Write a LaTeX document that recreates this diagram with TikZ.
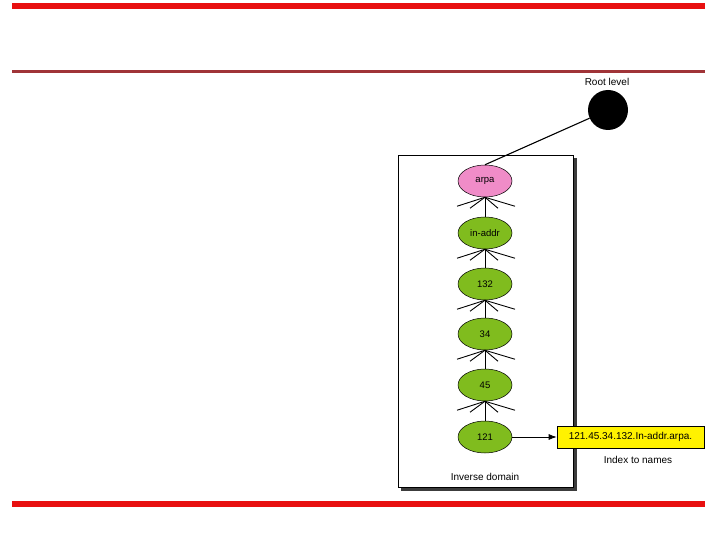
\documentclass[tikz,border=0pt]{standalone}
\usepackage{fontspec}
\setmainfont{Liberation Sans}
\usetikzlibrary{shapes.geometric,arrows.meta}
\definecolor{barred}{RGB}{232,16,16}
\definecolor{linered}{RGB}{160,52,56}
\definecolor{leafgreen}{RGB}{128,188,30}
\definecolor{arpapink}{RGB}{240,140,200}
\definecolor{shadowgray}{RGB}{60,60,60}
\tikzset{
  dom/.style={ellipse,draw=black,line width=0.5pt,minimum width=54pt,minimum height=32pt,inner sep=0pt,font=\fontsize{9.5}{11}\selectfont},
  greendom/.style={dom,fill=leafgreen},
  lbl/.style={font=\fontsize{10}{12}\selectfont,inner sep=0pt},
  fan/.style={line width=0.9pt},
}
\begin{document}
\begin{tikzpicture}[x=1pt,y=-1pt]
\useasboundingbox (0,0) rectangle (720,540);
% bars
\fill[barred] (12,3) rectangle (705,9);
\fill[linered] (12,70) rectangle (705,73);
\fill[barred] (12,501) rectangle (705,507);
% domain box with shadow
\fill[shadowgray] (401,158) rectangle (576.5,490.5);
\draw[fill=white,line width=0.7pt] (398,155) rectangle (573,487);
% root
\node[circle,fill=black,minimum size=40pt,inner sep=0pt] (root) at (608,110) {};
\node[lbl] (rootlbl) at (607,82) {Root level};
% domains
\node[dom,fill=arpapink] (arpa) at (485,181) {arpa};
\node[greendom] (inaddr) at (485,233) {in-addr};
\node[greendom] (n132) at (485,284) {132};
\node[greendom] (n34) at (485,334) {34};
\node[greendom] (n45) at (485,385) {45};
\node[greendom] (n121) at (485,437) {121};
\draw[line width=1.1pt] (root) -- (arpa.north);
% fans
\foreach \p/\c in {arpa/inaddr,inaddr/n132,n132/n34,n34/n45,n45/n121}{
  \coordinate (f1) at ([shift={(-28,9)}]\p.south);
  \coordinate (f2) at ([shift={(-15,11)}]\p.south);
  \coordinate (f3) at ([shift={(13,11)}]\p.south);
  \coordinate (f4) at ([shift={(30,9)}]\p.south);
  \draw[fan] (\p.south) -- (f1);
  \draw[fan] (\p.south) -- (f2);
  \draw[fan] (\p.south) -- (f3);
  \draw[fan] (\p.south) -- (f4);
  \draw[fan] (\p.south) -- (\c.north);
}
% index
\node[draw=black,fill=yellow,line width=0.6pt,minimum width=147pt,minimum height=22pt,inner sep=0pt,font=\fontsize{10}{12}\selectfont] (idx) at (630.5,437) {121.45.34.132.In-addr.arpa.};
\draw[line width=0.8pt,-{Latex[length=8pt,width=6pt]}] (n121.east) -- (idx.west);
\node[lbl] (idxlbl) at (638,460) {Index to names};
\node[lbl] (invlbl) at (485,477) {Inverse domain};
\end{tikzpicture}
\end{document}
